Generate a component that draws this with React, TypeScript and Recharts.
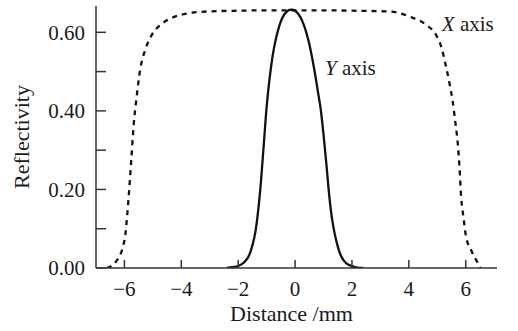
import { LineChart, Line, XAxis, YAxis, ReferenceDot } from "recharts";

// dashed curve ("X axis")
const xScanDist = [
  -6.62, -6.3, -6.0, -5.86, -5.76, -5.68, -5.57, -5.45, -5.27, -5.04, -4.64, -4.22, -3.93, -3.1,
  -2, -1, 0, 1, 2, 3.3, 4.03, 4.61, 4.96, 5.14, 5.31, 5.43, 5.54, 5.64, 5.72, 5.78, 5.84, 5.92,
  6.01, 6.19, 6.46, 6.52,
];
const xScanRefl = [
  0, 0.016, 0.07, 0.173, 0.275, 0.36, 0.436, 0.504, 0.555, 0.593, 0.624, 0.64, 0.646, 0.653,
  0.655, 0.656, 0.656, 0.656, 0.655, 0.653, 0.64, 0.619, 0.593, 0.563, 0.512, 0.47, 0.425, 0.368,
  0.317, 0.258, 0.18, 0.13, 0.08, 0.046, 0.008, 0,
];

// solid curve ("Y axis")
const yScanDist = [
  -2.4, -2.2, -2.0, -1.8, -1.6, -1.5, -1.4, -1.3, -1.2, -1.1, -1.0, -0.9, -0.8, -0.7, -0.6, -0.5,
  -0.4, -0.3, -0.2, -0.1, 0, 0.1, 0.2, 0.3, 0.4, 0.5, 0.6, 0.7, 0.8, 0.9, 1.0, 1.1, 1.2, 1.3, 1.4,
  1.5, 1.6, 1.8, 2.0, 2.2, 2.4,
];
const yScanRefl = [
  0, 0.002, 0.005, 0.014, 0.035, 0.058, 0.09, 0.145, 0.22, 0.315, 0.41, 0.48, 0.535, 0.575, 0.605,
  0.628, 0.643, 0.652, 0.657, 0.658, 0.655, 0.648, 0.637, 0.62, 0.598, 0.57, 0.535, 0.495, 0.45,
  0.405, 0.34, 0.265, 0.185, 0.125, 0.085, 0.055, 0.033, 0.012, 0.005, 0.001, 0,
];

const xTicks = [-6, -4, -2, 0, 2, 4, 6];
const yTicks = [0, 0.1, 0.2, 0.3, 0.4, 0.5, 0.6];

const xScan = xScanDist.map((d, i) => ({ d, r: xScanRefl[i] }));
const yScan = yScanDist.map((d, i) => ({ d, r: yScanRefl[i] }));

const FONT = "'Liberation Serif', 'Times New Roman', serif";
const INK = "#1a1a1a";

const tickStyle = { fill: INK, fontFamily: FONT, fontSize: 21, style: { fontFamily: FONT } };

const CurveLabel = ({ viewBox, italic, rest }: any) => (
  <text x={viewBox.x} y={viewBox.y} fontFamily={FONT} fontSize={21} fill={INK}>
    <tspan fontStyle="italic">{italic}</tspan>
    <tspan> {rest}</tspan>
  </text>
);

export default function App() {
  return (
    <div style={{ position: "absolute", left: 0, top: 0, background: "#fff", fontFamily: FONT }}>
      <LineChart
        width={518}
        height={331}
        margin={{ top: 6, right: 21, bottom: 0, left: 0 }}
        style={{ fontFamily: FONT }}
      >
        <XAxis
          type="number"
          dataKey="d"
          domain={[-7, 7.1]}
          ticks={xTicks}
          tickFormatter={(v: number) => (v < 0 ? `\u2212${Math.abs(v)}` : `${v}`)}
          allowDataOverflow
          height={63}
          tickSize={-8}
          tickMargin={21}
          stroke="#333"
          strokeWidth={1.5}
          tick={tickStyle}
          label={{
            value: "Distance /mm",
            position: "insideBottom",
            offset: 10,
            dx: -5,
            style: { fill: INK, fontFamily: FONT, fontSize: 22 },
          }}
        />
        <YAxis
          type="number"
          domain={[0, 0.667]}
          ticks={yTicks}
          tickFormatter={(v: number) => (Math.round(v * 10) % 2 === 0 ? v.toFixed(2) : "")}
          allowDataOverflow
          width={96}
          tickSize={-10}
          tickMargin={21}
          stroke="#333"
          strokeWidth={1.5}
          tick={tickStyle}
          label={{
            value: "Reflectivity",
            angle: -90,
            position: "insideLeft",
            offset: 21,
            style: { fill: INK, fontFamily: FONT, fontSize: 22, textAnchor: "middle" },
          }}
        />
        <Line
          data={xScan}
          dataKey="r"
          type="monotone"
          stroke="#111"
          strokeWidth={2.3}
          strokeDasharray="5 5"
          dot={false}
          activeDot={false}
          isAnimationActive={false}
        />
        <Line
          data={yScan}
          dataKey="r"
          type="monotone"
          stroke="#111"
          strokeWidth={2.3}
          dot={false}
          activeDot={false}
          isAnimationActive={false}
        />
        <ReferenceDot
          x={5.16}
          y={0.603}
          r={0}
          fill="none"
          stroke="none"
          label={(p: any) => <CurveLabel {...p} italic="X" rest="axis" />}
        />
        <ReferenceDot
          x={1.05}
          y={0.491}
          r={0}
          fill="none"
          stroke="none"
          label={(p: any) => <CurveLabel {...p} italic="Y" rest="axis" />}
        />
      </LineChart>
    </div>
  );
}
